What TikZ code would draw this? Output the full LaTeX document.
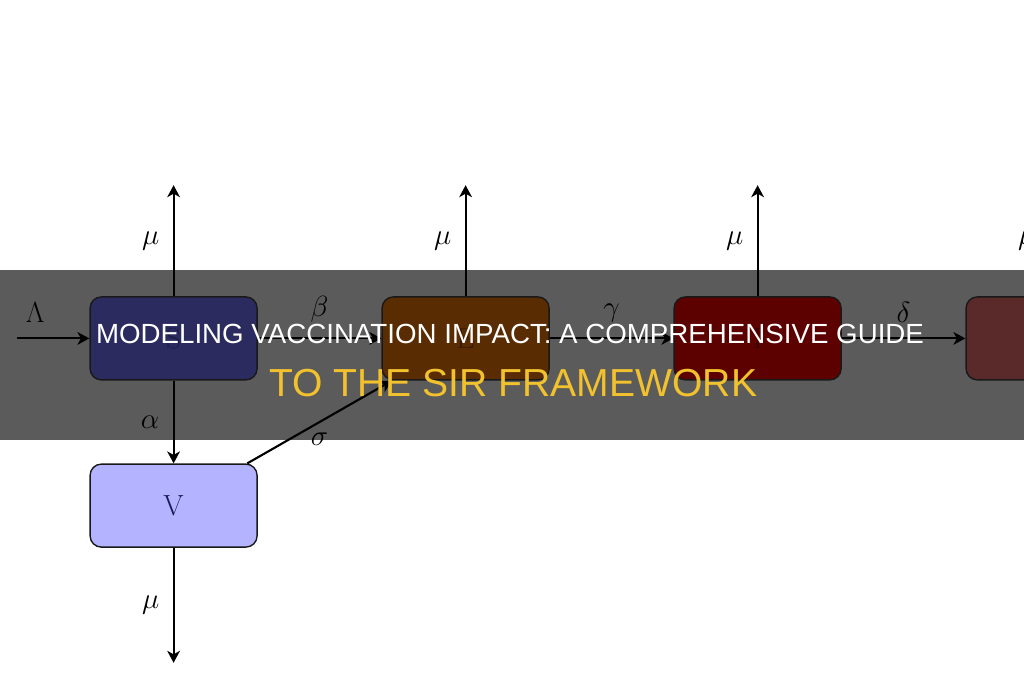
\documentclass[tikz,border=0pt]{standalone}
\usepackage{fontspec}
\newfontfamily\bannerfont{Liberation Sans}
\usetikzlibrary{arrows.meta}
\definecolor{bannergray}{HTML}{5B5B5B}
\definecolor{titleyellow}{HTML}{F2C12E}
\definecolor{susfill}{HTML}{2B2B5F}
\definecolor{sustext}{HTML}{1E1E45}
\definecolor{expfill}{HTML}{5A2C02}
\definecolor{exptext}{HTML}{3A1A00}
\definecolor{inffill}{HTML}{5C0000}
\definecolor{inftext}{HTML}{3A0000}
\definecolor{recfill}{HTML}{5A2A2A}
\definecolor{rectext}{HTML}{3A1C1C}
\definecolor{vacfill}{HTML}{B3B3FF}
\definecolor{vactext}{HTML}{1B1B55}

\begin{document}
\begin{tikzpicture}[
    >={Stealth[length=8.5pt, width=9pt, inset=2.5pt]},
    flow/.style={
        ->,
        line width=1.5pt
    },
    compbox/.style={
        draw=black!90,
        line width=1pt,
        rounded corners=8pt,
        minimum width=4.175cm,
        minimum height=2.075cm,
        font=\huge
    },
    ratetext/.style={
        font=\huge,
        inner sep=2pt
    },
    headline/.style={
        font=\bannerfont\fontsize{19.7}{24}\selectfont,
        text=white,
        anchor=base
    }
]
\useasboundingbox (0,0) rectangle (25.6,-17);

% Dark banner behind the model
\fill[bannergray] (0,-6.75) rectangle (25.6,-11);

% Compartments
\node[compbox, fill=susfill, text=sustext] (S) at (4.34,-8.46) {S};
\node[compbox, fill=expfill, text=exptext] (E) at (11.64,-8.46) {E};
\node[compbox, fill=inffill, text=inftext] (I) at (18.94,-8.46) {I};
\node[compbox, fill=recfill, text=rectext] (R) at (26.24,-8.46) {R};
\node[compbox, fill=vacfill, text=vactext] (V) at (4.34,-12.64) {V};

% Recruitment
\coordinate (in) at (0.425,-8.46);
\draw[flow] (in) -- node[pos=0.25, above=8.5pt, ratetext] {$\Lambda$} (S);

% Transitions
\draw[flow] (S) -- node[above=8.5pt, ratetext] {$\beta$} (E);
\draw[flow] (E) -- node[above=8.5pt, ratetext] {$\gamma$} (I);
\draw[flow] (I) -- node[above=8.5pt, ratetext] {$\delta$} (R);
\draw[flow] (S) -- node[left=7.5pt, ratetext] {$\alpha$} (V);
\draw[flow] (V) -- node[below=5pt, ratetext] {$\sigma$} (E);

% Natural deaths
\foreach \c in {S,E,I,R} {
    \path (\c.north) ++(0,2.775) coordinate (\c-up);
    \draw[flow] (\c.north) -- node[left=7.5pt, ratetext] {$\mu$} (\c-up);
}
\path (V.south) ++(0,-2.875) coordinate (V-down);
\draw[flow] (V.south) -- node[left=7.5pt, ratetext] {$\mu$} (V-down);

% Headline
\node[headline] (title1) at (12.75,-8.575) {MODELING VACCINATION IMPACT: A COMPREHENSIVE GUIDE};
\node[headline, text=titleyellow, font=\bannerfont\fontsize{27.8}{33}\selectfont] (title2) at (12.83,-9.9) {TO THE SIR FRAMEWORK};

\end{tikzpicture}
\end{document}
